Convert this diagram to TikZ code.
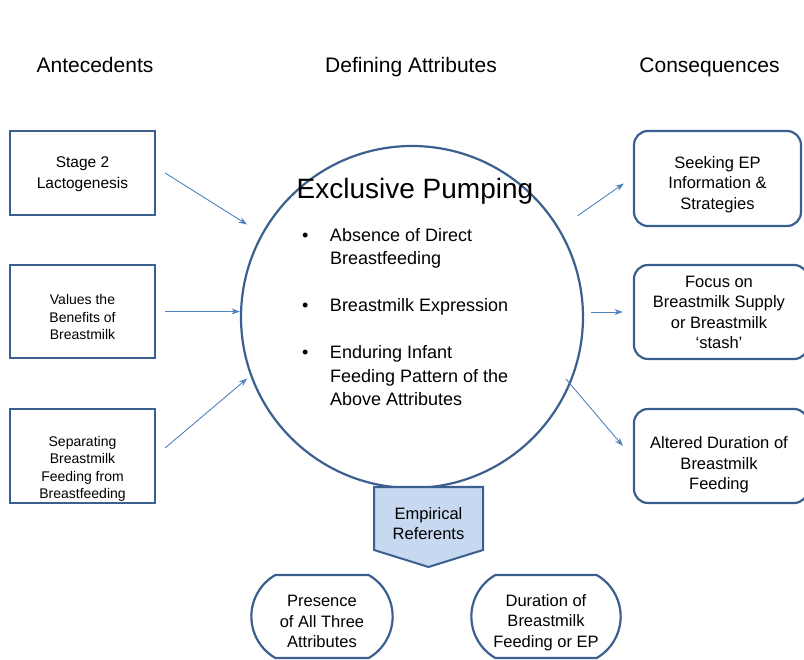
\documentclass[tikz,border=0pt]{standalone}
\usepackage{fontspec}
\setmainfont{Liberation Sans}
\usetikzlibrary{arrows.meta, shapes.misc}
\definecolor{boxblue}{HTML}{3B5F8E}
\definecolor{arrowblue}{HTML}{4F81BD}
\definecolor{refblue}{HTML}{C6D9F1}

\begin{document}
\begin{tikzpicture}[x=1pt, y=-1pt,
        heading/.style={anchor=base, font=\fontsize{21}{25}\selectfont},
        ante/.style={draw=boxblue, line width=2.2pt, minimum width=145pt},
        cons/.style={draw=boxblue, line width=2.2pt, rounded corners=14pt},
        referent/.style={draw=boxblue, line width=2.2pt, rounded rectangle,
            rounded rectangle arc length=120, minimum height=83pt},
        boxtext/.style={align=center, font=\fontsize{16.5}{20.5}\selectfont},
        antetext/.style={align=center, font=\fontsize{15.5}{21}\selectfont},
        smalltext/.style={align=center, font=\fontsize{14}{17.5}\selectfont},
        arr/.style={draw=arrowblue, line width=0.9pt, -{Stealth[length=8.5pt,width=6pt]}}]
                \useasboundingbox (0,0) rectangle (804,660);
                \node[heading] (hant) at (95,73) {Antecedents};
                \node[heading] (hdef) at (411,73) {Defining Attributes};
                \node[heading] (hcon) at (709.5,73) {Consequences};
                \node[ante, minimum height=84pt] (ante1) at (82.5,173) {};
                \node[ante, minimum height=93pt] (ante2) at (82.5,311.5) {};
                \node[ante, minimum height=94pt] (ante3) at (82.5,456) {};
                \node[antetext] (ante1txt) at (82.5,174.5) {Stage 2\\Lactogenesis};
                \node[smalltext] (ante2txt) at (82.5,317) {Values the\\Benefits of\\Breastmilk};
                \node[smalltext] (ante3txt) at (82.5,469) {Separating\\Breastmilk\\Feeding from\\Breastfeeding};
                \node[draw=boxblue, line width=2.2pt, circle, minimum size=342pt, inner sep=0] (ep) at (412,317) {};
                \node[anchor=base, font=\fontsize{28}{32}\selectfont] (title) at (415,199) {Exclusive Pumping};
                \node[anchor=base west, inner sep=0, font=\fontsize{18}{23.5}\selectfont] (attr) at (302,241.5) {%
                    \begin{tabular}[t]{@{}l@{\hspace{21.5pt}}l@{}}
                        \textbullet & Absence of Direct\\
                                    & Breastfeeding\\[23.5pt]
                        \textbullet & Breastmilk Expression\\[23.5pt]
                        \textbullet & Enduring Infant\\
                                    & Feeding Pattern of the\\
                                    & Above Attributes
                    \end{tabular}};
                \node[cons, minimum width=167pt, minimum height=95pt] (cons1) at (717.5,178.5) {};
                \node[cons, minimum width=174pt, minimum height=94pt] (cons2) at (721,312) {};
                \node[cons, minimum width=174pt, minimum height=94pt] (cons3) at (721,456) {};
                \node[boxtext] (cons1txt) at (717.5,184.5) {Seeking EP\\Information \&\\Strategies};
                \node[boxtext] (cons2txt) at (719,312.5) {Focus on\\Breastmilk Supply\\or Breastmilk\\‘stash’};
                \node[boxtext] (cons3txt) at (719,465) {Altered Duration of\\Breastmilk\\Feeding};
                \draw[draw=boxblue, fill=refblue, line width=2pt] (374,487) -- (483,487) -- (483,550) -- (428.5,567) -- (374,550) -- cycle;
                \node[boxtext] (er) at (428.5,523.5) {Empirical\\Referents};
                \node[referent, minimum width=148pt] (ref1) at (322,616.5) {};
                \node[referent, minimum width=156pt] (ref2) at (546,616.5) {};
                \node[boxtext] (ref1txt) at (322,621.5) {Presence\\of All Three\\Attributes};
                \node[boxtext] (ref2txt) at (546,622.5) {Duration of\\Breastmilk\\Feeding or EP};
                \draw[arr, shorten >=17pt] ([xshift=9pt]ante1.east) -- (ep.151);
                \draw[arr] ([xshift=9pt]ante2.east) -- (ante2.east -| ep.west);
                \draw[arr, shorten >=4pt] ([shift={(9,-8)}]ante3.east) -- (ep.200);
                \draw[arr, shorten <=22pt] (ep.31) -- ([shift={(-9,5)}]cons1.west);
                \draw[arr, shorten <=7pt] (ep.east |- cons2.west) -- ([xshift=-10pt]cons2.west);
                \draw[arr, shorten <=-7pt] (ep.-23) -- ([shift={(-10,-10)}]cons3.west);
            \end{tikzpicture}
\end{document}
